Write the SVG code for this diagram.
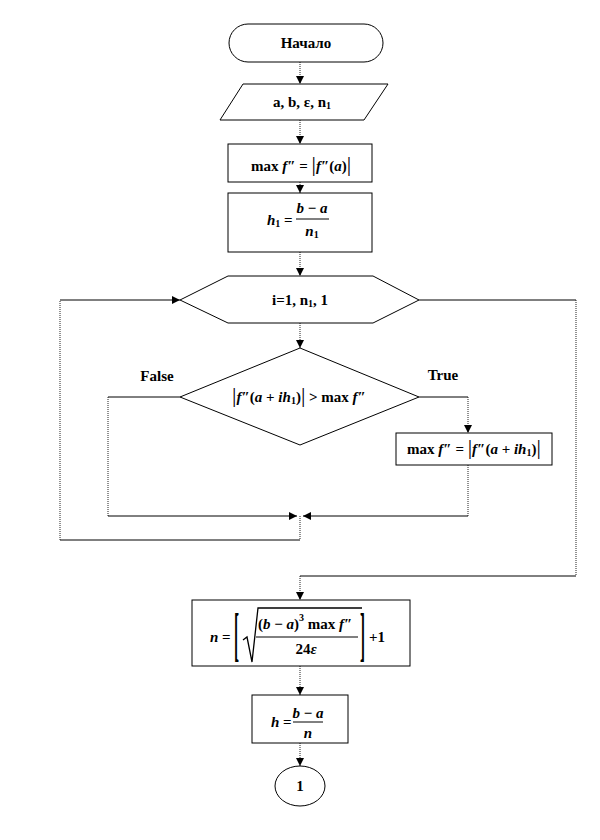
<svg xmlns="http://www.w3.org/2000/svg" width="600" height="840" viewBox="0 0 600 840">
<defs>
<style>
.n{fill:#fff;stroke:#000;stroke-width:1}
.t{font-family:'Liberation Serif','DejaVu Serif',serif;font-weight:bold;font-size:15px;fill:#000}
.c{text-anchor:middle}
.i{font-style:italic}
.b{font-weight:normal;font-size:22px}
.s{font-size:10px}
.e{fill:none;stroke:#000;stroke-width:1}
.v{fill:none;stroke:#222;stroke-width:1;stroke-dasharray:1 1}
.r{fill:none;stroke:#000;stroke-width:1.3}
</style>
<marker id="a" markerWidth="8" markerHeight="8" refX="8" refY="4" orient="auto" markerUnits="userSpaceOnUse">
<path d="M0,0 L8,4 L0,8 z" fill="#000"/>
</marker>
</defs>
<rect width="600" height="840" fill="#fff"/>

<g id="connectors">
<line class="v" x1="300" y1="62" x2="300" y2="84" marker-end="url(#a)"/>
<line class="v" x1="300" y1="120" x2="300" y2="144" marker-end="url(#a)"/>
<line class="v" x1="300" y1="182" x2="300" y2="193" marker-end="url(#a)"/>
<line class="v" x1="300" y1="252" x2="300" y2="276" marker-end="url(#a)"/>
<line class="v" x1="300" y1="323" x2="300" y2="348" marker-end="url(#a)"/>
<line class="e" x1="180" y1="397" x2="108" y2="397"/>
<line class="v" x1="108" y1="397" x2="108" y2="516"/>
<line class="e" x1="108" y1="516" x2="297" y2="516" marker-end="url(#a)"/>
<line class="e" x1="419" y1="397" x2="468" y2="397"/>
<line class="v" x1="468" y1="397" x2="468" y2="433" marker-end="url(#a)"/>
<line class="v" x1="468" y1="465" x2="468" y2="516"/>
<line class="e" x1="468" y1="516" x2="303" y2="516" marker-end="url(#a)"/>
<line class="v" x1="300" y1="516" x2="300" y2="540"/>
<line class="e" x1="300" y1="540" x2="60" y2="540"/>
<line class="v" x1="60" y1="540" x2="60" y2="300"/>
<line class="e" x1="60" y1="300" x2="180" y2="300" marker-end="url(#a)"/>
<line class="e" x1="419" y1="300" x2="576" y2="300"/>
<line class="v" x1="576" y1="300" x2="576" y2="576"/>
<line class="e" x1="576" y1="576" x2="300" y2="576"/>
<line class="v" x1="300" y1="576" x2="300" y2="600" marker-end="url(#a)"/>
<line class="v" x1="300" y1="666" x2="300" y2="695" marker-end="url(#a)"/>
<line class="v" x1="300" y1="743" x2="300" y2="766" marker-end="url(#a)"/>
</g>

<g id="start">
<rect class="n" x="229" y="24" width="154" height="38" rx="19" ry="19"/>
<text class="t c" x="306" y="48" font-family="Liberation Serif, serif">Начало</text>
</g>

<g id="input">
<polygon class="n" points="243,84 388,84 364,120 220,120"/>
<text class="t c" x="302" y="107" font-family="Liberation Serif, serif">a, b, ε, n<tspan class="s" dy="2">1</tspan></text>
</g>

<g id="maxf">
<rect class="n" x="228" y="144" width="144" height="38"/>
<text class="t c" x="301" y="171" font-family="Liberation Serif, serif">max <tspan class="i">f</tspan>″ = <tspan class="b">|</tspan><tspan class="i">f</tspan>″(<tspan class="i">a</tspan>)<tspan class="b">|</tspan></text>
</g>

<g id="h1">
<rect class="n" x="228" y="193" width="144" height="59"/>
<text class="t" x="267" y="225" font-family="Liberation Serif, serif"><tspan class="i">h</tspan><tspan class="s" dy="2">1</tspan><tspan dy="-2"> =</tspan></text>
<text class="t c" x="312" y="213" font-family="Liberation Serif, serif"><tspan class="i">b</tspan> − <tspan class="i">a</tspan></text>
<line class="e" x1="296" y1="219" x2="329" y2="219"/>
<text class="t c" x="312" y="236" font-family="Liberation Serif, serif"><tspan class="i">n</tspan><tspan class="s" dy="2">1</tspan></text>
</g>

<g id="loop">
<polygon class="n" points="180,300 228,276 373,276 419,300 373,323 228,323"/>
<text class="t c" x="300" y="305" font-family="Liberation Serif, serif">i=1, n<tspan class="s" dy="2">1</tspan><tspan dy="-2">, 1</tspan></text>
</g>

<g id="cond">
<polygon class="n" points="300,348 419,397 300,445 180,397"/>
<text class="t c" x="299" y="402" font-family="Liberation Serif, serif"><tspan class="b">|</tspan><tspan class="i">f</tspan>″(<tspan class="i">a</tspan> + <tspan class="i">ih</tspan><tspan class="s" dy="2">1</tspan><tspan dy="-2">)</tspan><tspan class="b">|</tspan> &gt; max <tspan class="i">f</tspan>″</text>
<text class="t c" x="157" y="381" font-family="Liberation Serif, serif">False</text>
<text class="t c" x="443" y="380" font-family="Liberation Serif, serif">True</text>
</g>

<g id="update">
<rect class="n" x="396" y="433" width="156" height="32"/>
<text class="t c" x="474" y="454" font-family="Liberation Serif, serif">max <tspan class="i">f</tspan>″ = <tspan class="b">|</tspan><tspan class="i">f</tspan>″(<tspan class="i">a</tspan> + <tspan class="i">ih</tspan><tspan class="s" dy="2">1</tspan><tspan dy="-2">)</tspan><tspan class="b">|</tspan></text>
</g>

<g id="ncalc">
<rect class="n" x="192" y="600" width="218" height="66"/>
<text class="t" x="210" y="642" font-family="Liberation Serif, serif"><tspan class="i">n</tspan> =</text>
<text class="t" transform="translate(234,654) scale(1,3.9)" font-size="20" font-family="Liberation Serif, serif">[</text>
<polyline class="r" points="243,640 247,637 252,662 258,608 362,608"/>
<text class="t" x="258" y="629" font-family="Liberation Serif, serif">(<tspan class="i">b</tspan> − <tspan class="i">a</tspan>)<tspan class="s" dy="-8">3</tspan><tspan dy="8"> max </tspan><tspan class="i">f</tspan>″</text>
<line class="e" x1="256" y1="637" x2="358" y2="637"/>
<text class="t c" x="306" y="654" font-family="Liberation Serif, serif">24<tspan class="i">ε</tspan></text>
<text class="t" transform="translate(360,654) scale(1,3.9)" font-size="20" font-family="Liberation Serif, serif">]</text>
<text class="t" x="369" y="642" font-family="Liberation Serif, serif">+1</text>
</g>

<g id="hcalc">
<rect class="n" x="252" y="695" width="96" height="48"/>
<text class="t" x="271" y="727" font-family="Liberation Serif, serif"><tspan class="i">h</tspan> =</text>
<text class="t c" x="308" y="718" font-family="Liberation Serif, serif"><tspan class="i">b</tspan> − <tspan class="i">a</tspan></text>
<line class="e" x1="293" y1="722" x2="323" y2="722"/>
<text class="t c i" x="308" y="738" font-family="Liberation Serif, serif">n</text>
</g>

<g id="end">
<ellipse class="n" cx="300" cy="786" rx="25" ry="20"/>
<text class="t c" x="300" y="791" font-family="Liberation Serif, serif">1</text>
</g>
</svg>
